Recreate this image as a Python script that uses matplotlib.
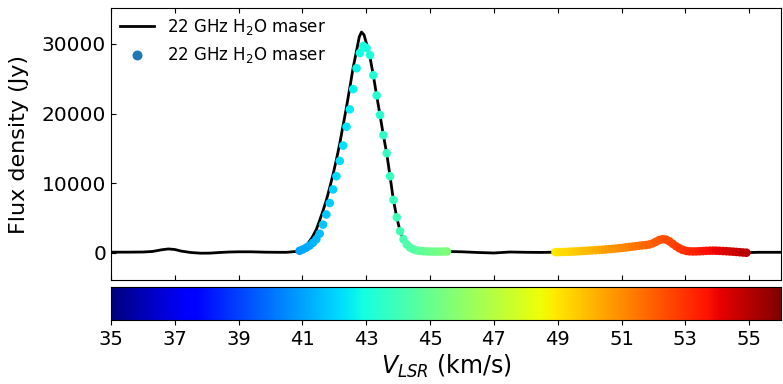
import numpy as np
import matplotlib.pyplot as plt
from matplotlib.colors import Normalize

# black spectrum line (velocity km/s, flux Jy)
line_v = [35.0, 35.5, 36.0, 36.3, 36.6, 36.8, 37.0, 37.2, 37.5, 37.8, 38.1, 38.4,
          38.7, 39.0, 39.4, 39.8, 40.2, 40.5, 40.8, 41.0, 41.15, 41.3, 41.43, 41.535,
          41.64, 41.745, 41.85, 41.955, 42.06, 42.165, 42.27, 42.375, 42.48, 42.585,
          42.69, 42.78, 42.85, 42.93, 43.02, 43.12, 43.22, 43.325, 43.43, 43.535,
          43.64, 43.745, 43.85, 43.955, 44.06, 44.165, 44.27, 44.375, 44.48, 44.7,
          45.0, 45.5, 46.0, 46.5, 47.0, 47.5, 48.0, 48.5, 48.9, 49.5, 50.0, 50.5,
          51.0, 51.5, 51.8, 52.0, 52.2, 52.3, 52.45, 52.6, 52.8, 53.0, 53.3, 53.8,
          54.3, 54.9, 55.3, 56.0]
line_flux = [100, 100, 120, 200, 450, 560, 480, 250, 50, -50, -40, 50,
             120, 150, 150, 100, 80, 80, 200, 600, 1200, 2200, 3300, 4600,
             6000, 7500, 9300, 11200, 13300, 15600, 18200, 20800, 23600, 26500,
             28900, 31000, 31700, 31300, 29800, 28000, 25500, 22600, 19800, 16900,
             14300, 11000, 7600, 5100, 3100, 1950, 1200, 750, 500, 300,
             200, 200, 150, 50, -20, 120, 80, 60, 100, 180, 320, 490,
             700, 1000, 1150, 1400, 1850, 1980, 1800, 1300, 650, 300, 200, 320,
             220, 30, 80, 80]

# channel data shown as coloured dots, two velocity ranges
chan_step = 0.105
grp1_start = 40.91
grp1_flux = [300, 500, 750, 1050, 1450, 1950, 2750, 4050, 5500, 7150,
             9100, 11000, 13200, 15400, 18100, 20600, 23500, 26500, 28700, 29700,
             29400, 28400, 25500, 22600, 19800, 16900, 14300, 11000, 7600, 5100,
             3100, 1950, 1200, 750, 500, 350, 280, 230, 200, 190,
             180, 180, 180, 190, 200]
grp2_start = 48.93
grp2_flux = [100, 110, 120, 140, 160, 180, 200, 230, 260, 290,
             320, 350, 380, 410, 450, 490, 530, 570, 620, 670,
             720, 780, 840, 900, 960, 1020, 1080, 1120, 1200, 1350,
             1600, 1850, 1960, 1900, 1650, 1300, 950, 650, 420, 280,
             220, 200, 210, 230, 260, 290, 310, 320, 310, 290,
             260, 230, 200, 170, 130, 90, 50, 20]

v1 = grp1_start + chan_step * np.arange(len(grp1_flux))
v2 = grp2_start + chan_step * np.arange(len(grp2_flux))
dot_v = np.concatenate([v1, v2])
dot_flux = np.concatenate([grp1_flux, grp2_flux])

vmin, vmax = 35, 56
ticks = [35, 37, 39, 41, 43, 45, 47, 49, 51, 53, 55]

fig = plt.figure(figsize=(7.83, 3.84), dpi=100)
ax = fig.add_axes([0.1418, 0.2708, 0.8557, 0.7083])
cax = fig.add_axes([0.1418, 0.1667, 0.8557, 0.0859])

norm = Normalize(vmin=vmin, vmax=vmax)
ax.plot(line_v, line_flux, color='black', lw=2, label='22 GHz H$_2$O maser', zorder=2)
ax.scatter(dot_v, dot_flux, c=dot_v, cmap='jet', norm=norm, s=38,
           edgecolors='none', zorder=3)
# legend dot uses the default blue like the original
ax.scatter([], [], color='#1f77b4', s=38, label='22 GHz H$_2$O maser')

ax.set_xlim(vmin, vmax)
ax.set_ylim(-3900, 35150)
ax.set_xticks(ticks)
ax.set_yticks([0, 10000, 20000, 30000])
ax.tick_params(axis='both', direction='in', top=True, labelbottom=False, labelsize=14.5)
ax.set_ylabel('Flux density (Jy)', fontsize=16, labelpad=9)
ax.legend(loc='upper left', frameon=False, fontsize=12, borderaxespad=0.15,
          handlelength=2.0, labelspacing=0.45)

grad = np.linspace(vmin, vmax, 512).reshape(1, -1)
cax.imshow(grad, cmap='jet', norm=norm, aspect='auto', extent=[vmin, vmax, 0, 1])
cax.set_xlim(vmin, vmax)
cax.set_xticks(ticks)
cax.set_yticks([])
cax.tick_params(axis='x', labelsize=14)
cax.set_xlabel('$V_{LSR}$ (km/s)', fontsize=17, labelpad=3)

fig.savefig('out.png', dpi=100)
